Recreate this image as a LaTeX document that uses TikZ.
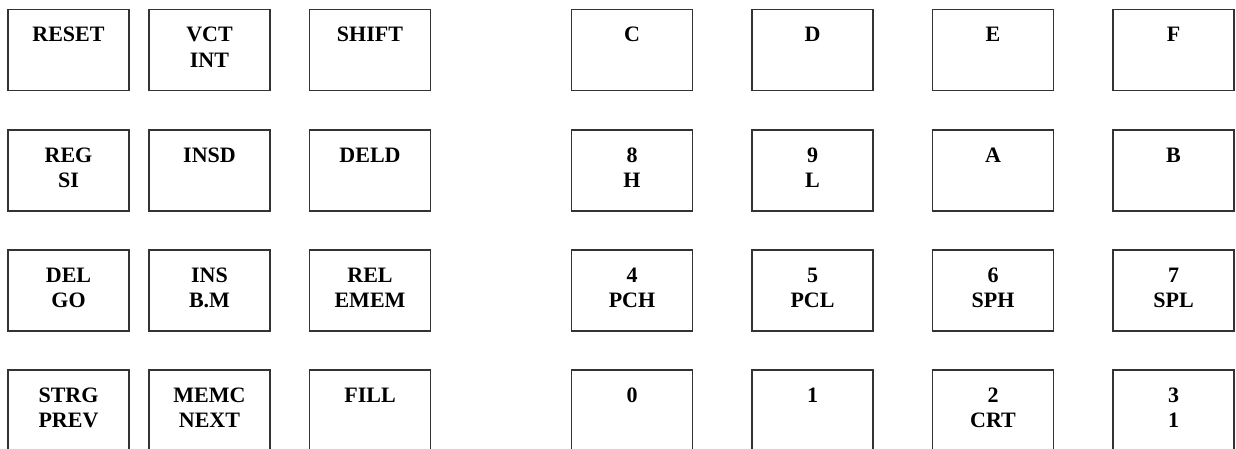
\documentclass[tikz,border=0pt]{standalone}
\usepackage{fontspec}
\setmainfont{Liberation Serif}
\begin{document}
\begin{tikzpicture}[x=1pt,y=-1pt,
  key/.style={draw=black!80,line width=1.2pt,minimum width=121pt,minimum height=81pt,inner sep=0pt},
  keytext/.style={anchor=north,align=center,inner sep=0pt,yshift=-18pt,font=\fontsize{22}{25.5}\selectfont\bfseries}]
\useasboundingbox (0,0) rectangle (1236,449);
% function keys
\node[key,label={[keytext]north:RESET}] (reset) at (68.5,50) {};
\node[key,label={[keytext]north:{VCT\\INT}}] (vct) at (209.5,50) {};
\node[key,label={[keytext]north:SHIFT}] (shift) at (370,50) {};
\node[key,label={[keytext]north:{REG\\SI}}] (reg) at (68.5,170.5) {};
\node[key,label={[keytext]north:INSD}] (insd) at (209.5,170.5) {};
\node[key,label={[keytext]north:DELD}] (deld) at (370,170.5) {};
\node[key,label={[keytext]north:{DEL\\GO}}] (del) at (68.5,290.5) {};
\node[key,label={[keytext]north:{INS\\B.M}}] (ins) at (209.5,290.5) {};
\node[key,label={[keytext]north:{REL\\EMEM}}] (rel) at (370,290.5) {};
\node[key,label={[keytext]north:{STRG\\PREV}}] (strg) at (68.5,410.5) {};
\node[key,label={[keytext]north:{MEMC\\NEXT}}] (memc) at (209.5,410.5) {};
\node[key,label={[keytext]north:FILL}] (fill) at (370,410.5) {};
% hex keys
\node[key,label={[keytext]north:C}] (kc) at (632,50) {};
\node[key,label={[keytext]north:D}] (kd) at (812.5,50) {};
\node[key,label={[keytext]north:E}] (ke) at (993,50) {};
\node[key,label={[keytext]north:F}] (kf) at (1173.5,50) {};
\node[key,label={[keytext]north:{8\\H}}] (k8) at (632,170.5) {};
\node[key,label={[keytext]north:{9\\L}}] (k9) at (812.5,170.5) {};
\node[key,label={[keytext]north:A}] (ka) at (993,170.5) {};
\node[key,label={[keytext]north:B}] (kb) at (1173.5,170.5) {};
\node[key,label={[keytext]north:{4\\PCH}}] (k4) at (632,290.5) {};
\node[key,label={[keytext]north:{5\\PCL}}] (k5) at (812.5,290.5) {};
\node[key,label={[keytext]north:{6\\SPH}}] (k6) at (993,290.5) {};
\node[key,label={[keytext]north:{7\\SPL}}] (k7) at (1173.5,290.5) {};
\node[key,label={[keytext]north:0}] (k0) at (632,410.5) {};
\node[key,label={[keytext]north:1}] (k1) at (812.5,410.5) {};
\node[key,label={[keytext]north:{2\\CRT}}] (k2) at (993,410.5) {};
\node[key,label={[keytext]north:{3\\1}}] (k3) at (1173.5,410.5) {};
\end{tikzpicture}
\end{document}
